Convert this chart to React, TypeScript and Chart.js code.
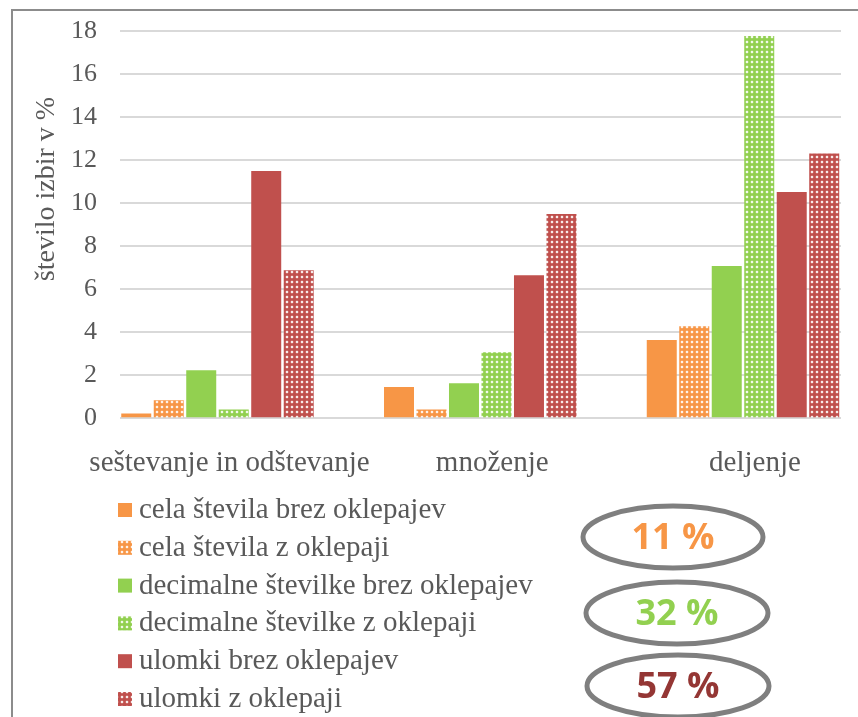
import React, { useEffect, useRef } from "react";
import { Chart, registerables } from "chart.js";

Chart.register(...registerables);

const categories = ["seštevanje in odštevanje", "množenje", "deljenje"];
const seriesNames = [
  "cela števila brez oklepajev",
  "cela števila z oklepaji",
  "decimalne številke brez oklepajev",
  "decimalne številke z oklepaji",
  "ulomki brez oklepajev",
  "ulomki z oklepaji",
];
const celaBrez = [0.22, 1.45, 3.63];
const celaZ = [0.84, 0.4, 4.28];
const decimalneBrez = [2.23, 1.62, 7.07];
const decimalneZ = [0.4, 3.07, 17.77];
const ulomkiBrez = [11.49, 6.65, 10.51];
const ulomkiZ = [6.88, 9.49, 12.31];
const yTitle = "število izbir v %";
const shareLabels = ["11 %", "32 %", "57 %"];

const ORANGE = "#f79646";
const GREEN = "#92d050";
const RED = "#c0504d";
const shareColors = [ORANGE, GREEN, "#943634"];
const TEXT = "#595959";
const SERIF = '"Liberation Serif", "Times New Roman", serif';

function makePattern(color: string): CanvasPattern | string {
  const c = document.createElement("canvas");
  c.width = 5;
  c.height = 5;
  const g = c.getContext("2d");
  if (!g) return color;
  g.fillStyle = color;
  g.fillRect(0, 0, 5, 5);
  g.fillStyle = "rgba(255,255,255,0.15)";
  g.fillRect(1, 0, 2, 1);
  g.fillRect(1, 3, 2, 1);
  g.fillRect(0, 1, 1, 2);
  g.fillRect(3, 1, 1, 2);
  g.fillStyle = "rgba(255,255,255,0.88)";
  g.fillRect(1, 1, 2, 2);
  const p = g.createPattern(c, "repeat");
  return p || color;
}

const overlayPlugin = {
  id: "overlay",
  afterDraw(chart: any) {
    const ctx: CanvasRenderingContext2D = chart.ctx;
    // y axis title
    ctx.save();
    ctx.translate(47, 189);
    ctx.rotate(-Math.PI / 2);
    ctx.font = `28px ${SERIF}`;
    ctx.fillStyle = TEXT;
    ctx.textAlign = "center";
    ctx.textBaseline = "middle";
    ctx.fillText(yTitle, 0, 0);
    ctx.restore();

    // legend
    ctx.save();
    chart.data.datasets.forEach((ds: any, i: number) => {
      const cy = 510 + i * 37.8;
      ctx.fillStyle = ds.backgroundColor;
      ctx.fillRect(118, cy - 7, 14, 14);
      ctx.fillStyle = TEXT;
      ctx.font = `29px ${SERIF}`;
      ctx.textAlign = "left";
      ctx.textBaseline = "alphabetic";
      ctx.fillText(ds.label, 139, cy + 8);
    });
    ctx.restore();

    // ellipses with shares
    const ells = [
      [673, 537, 90, 31],
      [677, 613, 91, 31],
      [678, 686, 91, 31],
    ];
    ctx.save();
    shareLabels.forEach((t, i) => {
      const [x, y, rx, ry] = ells[i];
      ctx.beginPath();
      ctx.ellipse(x, y, rx, ry, 0, 0, Math.PI * 2);
      ctx.lineWidth = 5;
      ctx.strokeStyle = "#7f7f7f";
      ctx.stroke();
      ctx.fillStyle = shareColors[i];
      ctx.font = 'bold 36px "Open Sans", "Liberation Sans", sans-serif';
      ctx.textAlign = "center";
      ctx.textBaseline = "middle";
      ctx.fillText(t, x, y + 2);
    });
    ctx.restore();
  },
};

export default function App() {
  const ref = useRef<HTMLCanvasElement | null>(null);

  useEffect(() => {
    document.body.style.margin = "0";
    if (!ref.current) return;
    const values = [celaBrez, celaZ, decimalneBrez, decimalneZ, ulomkiBrez, ulomkiZ];
    const colors = [ORANGE, ORANGE, GREEN, GREEN, RED, RED];
    const patterned = [false, true, false, true, false, true];
    const datasets = values.map((vals, k) => ({
      label: seriesNames[k],
      data: vals.map((v, i) => ({ x: i, y: v })),
      backgroundColor: patterned[k] ? makePattern(colors[k]) : colors[k],
      borderWidth: 0,
      categoryPercentage: 0.742,
      barPercentage: 0.923,
    }));
    const chart = new Chart(ref.current, {
      type: "bar",
      data: { datasets: datasets as any },
      plugins: [overlayPlugin],
      options: {
        animation: false,
        responsive: true,
        maintainAspectRatio: false,
        layout: { padding: { left: 48, top: 31, right: 17, bottom: 216 } },
        plugins: { legend: { display: false }, tooltip: { enabled: false } },
        scales: {
          x: {
            type: "linear",
            offset: false,
            min: -0.371,
            max: 2.373,
            grid: { display: false, offset: false },
            border: { display: false },
            afterBuildTicks: (scale: any) => {
              scale.ticks = categories.map((_, i) => ({ value: i }));
            },
            afterFit: (scale: any) => {
              scale.paddingLeft = 0;
              scale.paddingRight = 0;
            },
            ticks: {
              autoSkip: false,
              maxRotation: 0,
              padding: 20,
              labelOffset: 12,
              color: TEXT,
              font: { family: SERIF, size: 29 },
              callback: (v: any) => categories[v as number] ?? "",
            },
          },
          y: {
            min: 0,
            max: 18,
            grid: { color: "#d9d9d9", lineWidth: 2, drawTicks: false },
            border: { display: false },
            afterFit: (scale: any) => {
              scale.paddingTop = 0;
              scale.paddingBottom = 0;
            },
            ticks: {
              stepSize: 2,
              padding: 23,
              color: TEXT,
              font: { family: SERIF, size: 26 },
            },
          },
        },
      },
    });
    return () => chart.destroy();
  }, []);

  return (
    <div style={{ position: "absolute", left: 0, top: 0, width: 858, height: 717, overflow: "hidden", background: "#fff" }}>
      <canvas ref={ref} />
      <div
        style={{
          position: "absolute",
          left: 11,
          top: 9,
          width: 900,
          height: 800,
          borderTop: "2px solid #8c8c8c",
          borderLeft: "2px solid #8c8c8c",
          pointerEvents: "none",
        }}
      />
    </div>
  );
}
